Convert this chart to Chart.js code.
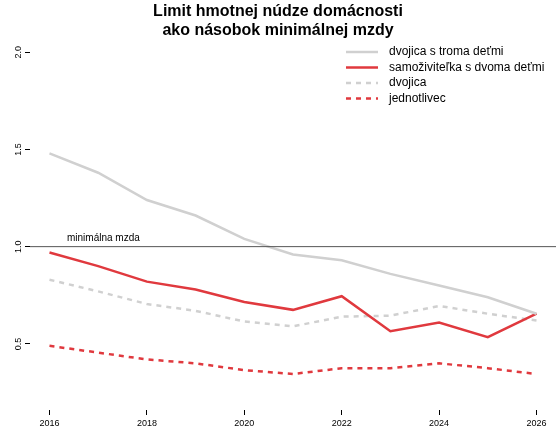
<!DOCTYPE html>
<html><head><meta charset="utf-8">
<script src="https://cdn.jsdelivr.net/npm/chart.js@4"></script>
<style>body{margin:0;background:#fff}#wrap{width:560px;height:431px}</style>
</head><body><div id="wrap"><canvas id="c"></canvas></div>
<script>
const years = [2016, 2017, 2018, 2019, 2020, 2021, 2022, 2023, 2024, 2025, 2026];
const dvojicaDeti = [1.48, 1.38, 1.24, 1.16, 1.04, 0.96, 0.93, 0.86, 0.80, 0.74, 0.655];
const samozivitelka = [0.97, 0.90, 0.82, 0.78, 0.715, 0.675, 0.745, 0.565, 0.61, 0.535, 0.655];
const dvojica = [0.83, 0.77, 0.705, 0.67, 0.615, 0.59, 0.64, 0.645, 0.695, 0.655, 0.62];
const jednotlivec = [0.49, 0.455, 0.42, 0.40, 0.365, 0.345, 0.375, 0.375, 0.40, 0.375, 0.345];
const seriesNames = ['dvojica s troma deťmi', 'samoživiteľka s dvoma deťmi', 'dvojica', 'jednotlivec'];
const xTicks = [2016, 2018, 2020, 2022, 2024, 2026];
const yTicks = [0.5, 1.0, 1.5, 2.0];
const minWage = 1.0;

const FONT = '"Liberation Sans", Arial, sans-serif';
const GRAY = '#d0d0d0', RED = '#e0393e';
const styles = [
  { color: GRAY, dash: [] }, { color: RED, dash: [] },
  { color: GRAY, dash: [5, 5] }, { color: RED, dash: [5, 5] }
];
const allData = [dvojicaDeti, samozivitelka, dvojica, jednotlivec];

const extras = {
  id: 'extras',
  afterDatasetsDraw(chart) {
    const { ctx, chartArea, scales: { y } } = chart;
    const py = y.getPixelForValue(minWage);
    ctx.save();
    ctx.strokeStyle = '#555'; ctx.lineWidth = 1;
    ctx.beginPath(); ctx.moveTo(chartArea.left, py); ctx.lineTo(chartArea.right, py); ctx.stroke();
    ctx.fillStyle = '#000'; ctx.font = '10px ' + FONT; ctx.textBaseline = 'bottom';
    ctx.fillText('minimálna mzda', 67, py - 3);
    // y tick labels, rotated bottom-to-top
    ctx.font = '9px ' + FONT; ctx.textAlign = 'center'; ctx.textBaseline = 'middle';
    yTicks.forEach(v => {
      ctx.save();
      ctx.translate(19, y.getPixelForValue(v));
      ctx.rotate(-Math.PI / 2);
      ctx.fillText(v.toFixed(1), 0, 0);
      ctx.restore();
    });
    // legend
    ctx.textAlign = 'left';
    ctx.font = '12px ' + FONT;
    seriesNames.forEach((n, i) => {
      const ly = 52 + i * 15.5;
      ctx.strokeStyle = styles[i].color; ctx.lineWidth = 2.5; ctx.setLineDash(styles[i].dash);
      ctx.beginPath(); ctx.moveTo(346, ly); ctx.lineTo(378, ly); ctx.stroke();
      ctx.setLineDash([]);
      ctx.fillStyle = '#000'; ctx.fillText(n, 389, ly);
    });
    ctx.restore();
  }
};

new Chart(document.getElementById('c'), {
  type: 'line',
  data: {
    datasets: allData.map((d, i) => ({
      label: seriesNames[i],
      data: years.map((yr, k) => ({ x: yr, y: d[k] })),
      borderColor: styles[i].color, borderDash: styles[i].dash,
      borderWidth: 2.5, pointRadius: 0, tension: 0, fill: false
    }))
  },
  options: {
    responsive: true, maintainAspectRatio: false, animation: false,
    layout: { padding: { left: 0, right: 4, top: 2, bottom: 0 } },
    plugins: {
      legend: { display: false }, tooltip: { enabled: false },
      title: { display: true, text: ['Limit hmotnej núdze domácnosti', 'ako násobok minimálnej mzdy'],
        color: '#000', font: { family: FONT, size: 16, weight: 'bold', lineHeight: 1.2 }, padding: { top: 0, bottom: 4 } }
    },
    scales: {
      x: { type: 'linear', min: 2015.6, max: 2026.4,
        afterBuildTicks: s => { s.ticks = xTicks.map(v => ({ value: v })); },
        afterFit: s => { s.height = 21; },
        grid: { drawOnChartArea: false, tickLength: 5, color: '#000' },
        border: { display: false },
        ticks: { color: '#000', font: { family: FONT, size: 9 }, padding: 3, callback: v => v } },
      y: { min: 0.16, max: 2.04,
        afterBuildTicks: s => { s.ticks = yTicks.map(v => ({ value: v })); },
        afterFit: s => { s.width = 30; },
        grid: { drawOnChartArea: false, tickLength: 5, color: '#000' },
        border: { display: false },
        ticks: { display: false } }
    }
  },
  plugins: [extras]
});
</script></body></html>
